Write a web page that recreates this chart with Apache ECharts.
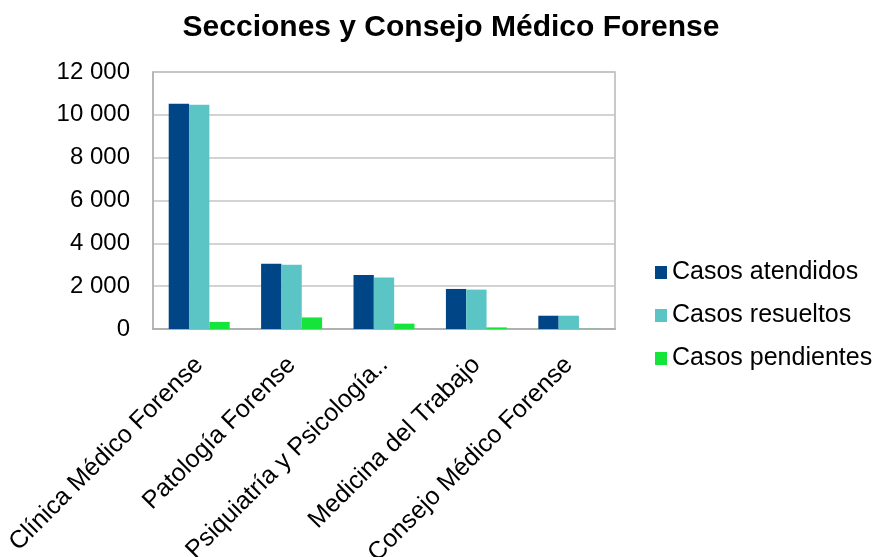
<!DOCTYPE html>
<html><head><meta charset="utf-8">
<script src="https://cdn.jsdelivr.net/npm/echarts@6/dist/echarts.min.js"></script>
<style>html,body{margin:0;padding:0;background:#fff}#c{width:873px;height:557px}</style>
</head><body><div id="c"></div>
<script>
var categories = ["Clínica Médico Forense","Patología Forense","Psiquiatría y Psicología..","Medicina del Trabajo","Consejo Médico Forense"];
var atendidos = [10520, 3050, 2520, 1870, 620];
var resueltos = [10470, 3000, 2400, 1840, 620];
var pendientes = [330, 540, 250, 75, 5];
var seriesNames = ["Casos atendidos","Casos resueltos","Casos pendientes"];
var colors = ["#004586","#5BC5C6","#15E43A"];
var chart = echarts.init(document.getElementById('c'));
function fmt(v){return String(v).replace(/\B(?=(\d{3})+(?!\d))/g,' ');}
var font = 'Liberation Sans, Arial, sans-serif';
chart.setOption({
  animation:false,
  color: colors,
  title:{text:'Secciones y Consejo Médico Forense', left:446, top:8, textAlign:'center',
    textStyle:{fontFamily:font, fontSize:30, fontWeight:'bold', color:'#000'}},
  legend:{orient:'vertical', left:650, top:255, itemGap:18, itemWidth:12, itemHeight:13,
    icon:'rect', textStyle:{fontFamily:font, fontSize:25, color:'#000'},
    data: seriesNames},
  grid:{left:153, top:72, width:462, height:257, show:true, borderColor:'#b8b8b8', borderWidth:1.5,
    containLabel:false, outerBoundsMode:'none'},
  xAxis:{type:'category', data:categories,
    axisLine:{lineStyle:{color:'#b0b0b0', width:2}}, axisTick:{show:false},
    axisLabel:{rotate:45, interval:0, fontFamily:font, fontSize:25, color:'#000', margin:32}},
  yAxis:{type:'value', min:0, max:12000, interval:2000,
    axisLine:{show:true, lineStyle:{color:'#b0b0b0', width:1.5}}, axisTick:{show:false},
    splitLine:{lineStyle:{color:'#c4c4c4', width:1.5}},
    axisLabel:{formatter:fmt, fontFamily:font, fontSize:24, color:'#000', margin:23}},
  series:[
    {name:seriesNames[0], type:'bar', data:atendidos, barGap:'0%', barCategoryGap:'34%'},
    {name:seriesNames[1], type:'bar', data:resueltos, barGap:'0%', barCategoryGap:'34%'},
    {name:seriesNames[2], type:'bar', data:pendientes, barGap:'0%', barCategoryGap:'34%'}
  ]
});
</script></body></html>
